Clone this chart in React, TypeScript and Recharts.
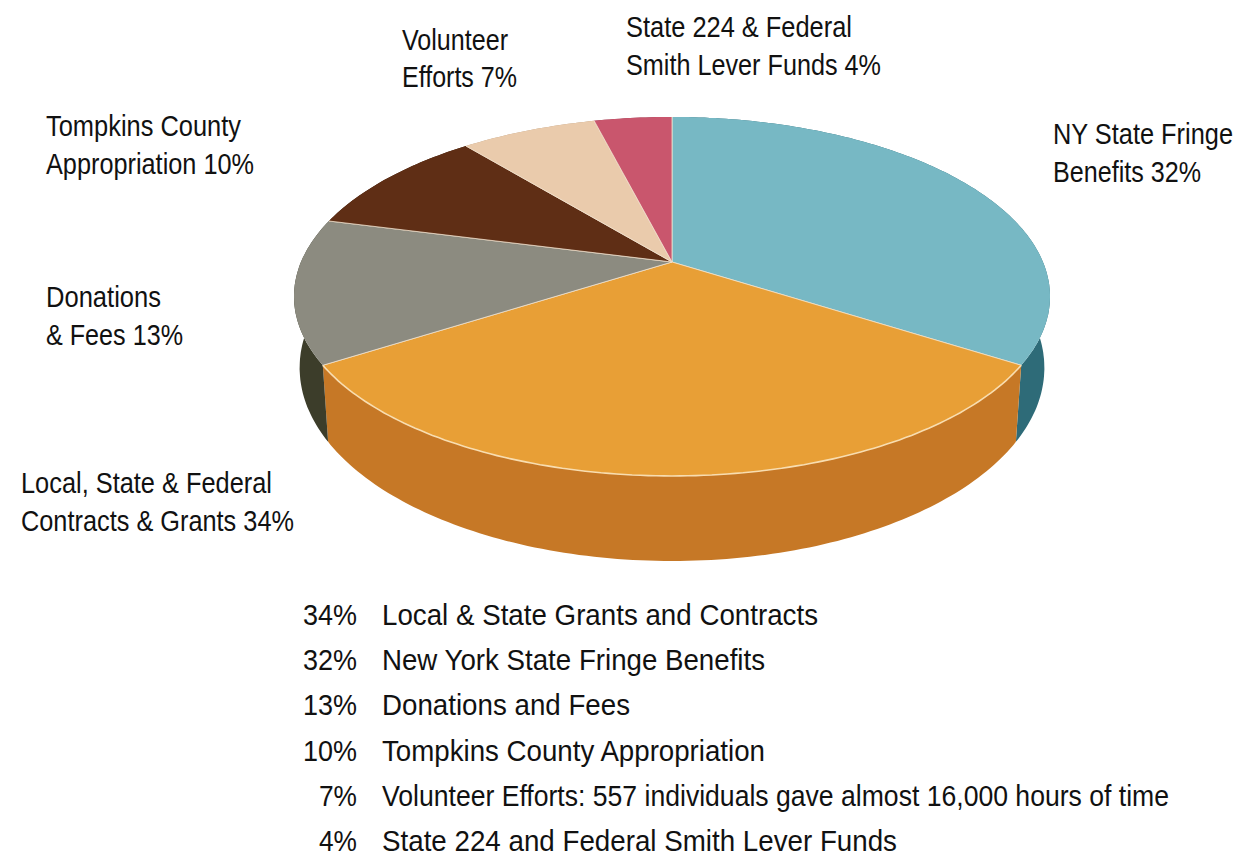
import { PieChart, Pie } from "recharts";

const sliceNames = [
  "NY State Fringe Benefits",
  "Local, State & Federal Contracts & Grants",
  "Donations & Fees",
  "Tompkins County Appropriation",
  "Volunteer Efforts",
  "State 224 & Federal Smith Lever Funds",
];
// Wedge sizes as they are drawn in the picture: the blue wedge measures 34 and
// the orange one 32, although the printed labels say it the other way round.
const sliceValues = [34, 32, 13, 10, 7, 4];
const topColors = ["#77B8C4", "#E89F36", "#8C8B80", "#5F2E15", "#EACBAC", "#C9566D"];
const sideColors = ["#2E6B78", "#C67826", "#3C3D2A", "#3A1C0C", "#B89A7C", "#8E3A4C"];

const calloutLines = [
  "State 224 & Federal",
  "Smith Lever Funds 4%",
  "Volunteer",
  "Efforts 7%",
  "Tompkins County",
  "Appropriation 10%",
  "NY State Fringe",
  "Benefits 32%",
  "Donations",
  "& Fees 13%",
  "Local, State & Federal",
  "Contracts & Grants 34%",
];
const listPercents = ["34%", "32%", "13%", "10%", "7%", "4%"];
const listTexts = [
  "Local & State Grants and Contracts",
  "New York State Fringe Benefits",
  "Donations and Fees",
  "Tompkins County Appropriation",
  "Volunteer Efforts: 557 individuals gave almost 16,000 hours of time",
  "State 224 and Federal Smith Lever Funds",
];

// x, baseline, width of each callout line
const calloutLayout = [
  [626, 37, 226],
  [626, 75, 255],
  [402, 50, 106],
  [402, 87, 115],
  [46, 136, 195],
  [46, 174, 208],
  [1053, 144, 180],
  [1053, 182, 148],
  [46, 307, 115],
  [46, 345, 137],
  [21, 493, 251],
  [21, 531, 273],
];
const listWidths = [436, 383, 248, 383, 787, 515];
const percentWidths = [54, 54, 54, 54, 38, 38];

const FONT = "'Liberation Sans', Arial, sans-serif";
const ORANGE_TOP = "#E89F36";

// the pie lies on a table seen in perspective: unit disc -> screen
const TILT = 0.192;
const SQUASH = 0.466;
const DEPTH = 68.7;
const WALL_TAPER = 0.985;

const rimPoint = (cx: number, cy: number, r: number, deg: number) => {
  const a = (deg * Math.PI) / 180;
  const right = Math.cos(a);
  const down = -Math.sin(a);
  const w = 1 - TILT * down;
  return { x: cx + (r * right) / w, y: cy + (r * SQUASH * down) / w, w };
};

const rimPoints = (p: any) => {
  const pts = [];
  const steps = Math.max(2, Math.ceil(Math.abs(p.endAngle - p.startAngle)));
  for (let i = 0; i <= steps; i++) {
    const deg = p.startAngle + ((p.endAngle - p.startAngle) * i) / steps;
    pts.push(rimPoint(p.cx, p.cy, p.outerRadius, deg));
  }
  return pts;
};

const toPath = (pts: { x: number; y: number }[]) =>
  pts.map((q, i) => `${i ? "L" : "M"}${q.x.toFixed(1)} ${q.y.toFixed(1)}`).join(" ");

const WallSector = (p: any) => {
  const upper = rimPoints(p);
  const lower = upper
    .map((q) => ({
      x: p.cx + (q.x - p.cx) * WALL_TAPER,
      y: q.y + DEPTH / q.w,
    }))
    .reverse();
  return <path d={`${toPath([...upper, ...lower])} Z`} fill={p.fill} stroke="none" />;
};

const TopSector = (p: any) => {
  const rim = rimPoints(p);
  const apex = { x: p.cx, y: p.cy };
  const first = rim[0];
  const last = rim[rim.length - 1];
  return (
    <g>
      <path d={`${toPath([apex, ...rim])} Z`} fill={p.fill} stroke="none" />
      <path d={toPath([first, apex, last])} fill="none" stroke="#F3E4D0" strokeWidth={1} strokeOpacity={0.75} />
      {p.fill === ORANGE_TOP && (
        <path d={toPath(rim)} fill="none" stroke="#F8DDB0" strokeWidth={1.6} />
      )}
    </g>
  );
};

const wallData = sliceNames.map((name, i) => ({ name, value: sliceValues[i], fill: sideColors[i] }));
const topData = sliceNames.map((name, i) => ({ name, value: sliceValues[i], fill: topColors[i] }));

const textStyle = { fontFamily: FONT, fontSize: 27, fill: "#111" };

// the reference type is a little taller than Liberation Sans at the same width
const Line = ({ x, y, width, children }: any) => (
  <text
    transform={`translate(${x} ${y}) scale(1 1.07)`}
    textLength={width}
    lengthAdjust="spacingAndGlyphs"
    style={textStyle}
  >
    {children}
  </text>
);

export default function App() {
  return (
    <div style={{ position: "absolute", left: 0, top: 0, width: 1238, height: 854, background: "#fff" }}>
      <PieChart
        width={1238}
        height={854}
        margin={{ top: 0, right: 0, bottom: 0, left: 0 }}
        style={{ position: "absolute", left: 0, top: 0 }}
      >
        <Pie
          data={wallData}
          dataKey="value"
          cx={672}
          cy={262}
          outerRadius={371}
          startAngle={90}
          endAngle={-270}
          shape={WallSector}
          isAnimationActive={false}
        />
        <Pie
          data={topData}
          dataKey="value"
          cx={672}
          cy={262}
          outerRadius={371}
          startAngle={90}
          endAngle={-270}
          shape={TopSector}
          isAnimationActive={false}
        />
      </PieChart>
      <svg width={1238} height={854} style={{ position: "absolute", left: 0, top: 0 }}>
        {calloutLines.map((line, i) => (
          <Line key={line} x={calloutLayout[i][0]} y={calloutLayout[i][1]} width={calloutLayout[i][2]}>
            {line}
          </Line>
        ))}
        {listTexts.map((line, i) => (
          <g key={line}>
            <Line x={357 - percentWidths[i]} y={625 + i * 45.2} width={percentWidths[i]}>
              {listPercents[i]}
            </Line>
            <Line x={382} y={625 + i * 45.2} width={listWidths[i]}>
              {line}
            </Line>
          </g>
        ))}
      </svg>
    </div>
  );
}
